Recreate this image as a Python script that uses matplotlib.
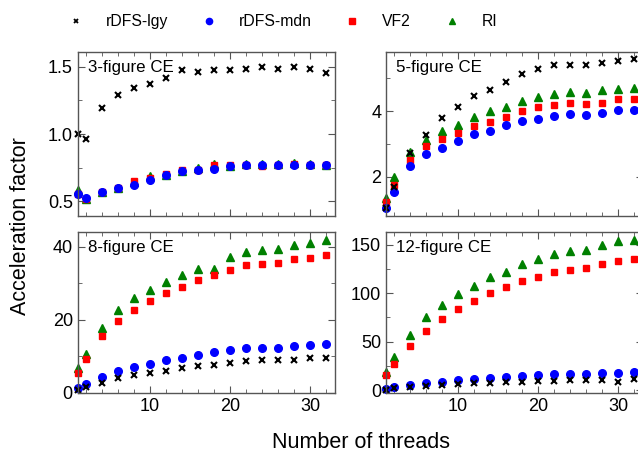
import numpy as np
import matplotlib.pyplot as plt
from matplotlib.ticker import MultipleLocator
from matplotlib.lines import Line2D

plt.rcParams['font.family'] = ['Liberation Sans', 'DejaVu Sans']

threads = [1, 2, 4, 6, 8, 10, 12, 14, 16, 18, 20, 22, 24, 26, 28, 30, 32]

# 3-figure CE
ce3_lgy = [1.00, 0.96, 1.19, 1.29, 1.345, 1.374, 1.414, 1.473, 1.465, 1.473, 1.473, 1.483, 1.497, 1.487, 1.50, 1.487, 1.453]
ce3_mdn = [0.555, 0.522, 0.57, 0.60, 0.624, 0.661, 0.698, 0.727, 0.735, 0.742, 0.762, 0.767, 0.767, 0.767, 0.768, 0.767, 0.767]
ce3_vf2 = [0.557, 0.518, 0.57, 0.60, 0.651, 0.675, 0.70, 0.73, 0.73, 0.767, 0.77, 0.77, 0.765, 0.77, 0.775, 0.772, 0.767]
ce3_ri = [0.58, 0.52, 0.572, 0.60, 0.64, 0.685, 0.695, 0.727, 0.75, 0.78, 0.763, 0.778, 0.776, 0.774, 0.785, 0.774, 0.767]

# 5-figure CE
ce5_lgy = [1.055, 1.69, 2.71, 3.26, 3.80, 4.12, 4.45, 4.64, 4.89, 5.13, 5.28, 5.39, 5.39, 5.39, 5.46, 5.52, 5.59]
ce5_mdn = [1.03, 1.54, 2.32, 2.68, 2.88, 3.10, 3.29, 3.39, 3.56, 3.70, 3.77, 3.86, 3.91, 3.88, 3.93, 4.02, 4.02]
ce5_vf2 = [1.23, 1.76, 2.51, 2.93, 3.15, 3.34, 3.55, 3.67, 3.81, 3.99, 4.11, 4.18, 4.25, 4.22, 4.25, 4.36, 4.36]
ce5_ri = [1.36, 1.98, 2.75, 3.12, 3.40, 3.56, 3.81, 3.99, 4.12, 4.30, 4.42, 4.51, 4.57, 4.55, 4.64, 4.68, 4.70]

# 8-figure CE
ce8_lgy = [0.8, 1.7, 2.8, 4.0, 4.8, 5.5, 6.1, 6.9, 7.4, 7.7, 8.3, 8.8, 9.0, 9.0, 9.0, 9.7, 9.7]
ce8_mdn = [1.3, 2.5, 4.3, 5.9, 7.1, 7.9, 8.9, 9.7, 10.5, 11.1, 11.8, 12.3, 12.4, 12.4, 12.9, 13.2, 13.5]
ce8_vf2 = [5.4, 9.4, 15.5, 19.8, 22.7, 25.1, 27.5, 29.1, 30.8, 32.2, 33.6, 35.0, 35.4, 35.6, 36.6, 37.0, 37.9]
ce8_ri = [6.8, 10.8, 17.8, 22.6, 26.0, 28.2, 30.3, 32.3, 34.0, 34.0, 37.1, 38.5, 39.2, 39.4, 40.5, 41.1, 41.8]

# 12-figure CE
ce12_lgy = [0.4, 1.8, 3.5, 4.5, 5.5, 6.3, 7.0, 7.3, 8.0, 8.0, 9.0, 9.7, 10.4, 10.4, 10.7, 8.3, 11.7]
ce12_mdn = [1.1, 3.5, 5.5, 7.6, 8.6, 10.0, 11.4, 12.5, 13.5, 14.2, 15.2, 16.3, 16.6, 16.6, 17.3, 17.9, 18.4]
ce12_vf2 = [15.2, 27.0, 45.6, 61.4, 73.2, 83.5, 92.4, 100.4, 106.2, 112.5, 117.2, 122.1, 124.5, 126.2, 130.4, 133.8, 135.8]
ce12_ri = [19.0, 33.9, 56.9, 75.2, 88.0, 99.6, 107.6, 116.6, 122.4, 130.7, 135.5, 141.0, 144.1, 145.0, 150.3, 154.1, 155.0]

panels = [
    ('3-figure CE', ce3_lgy, ce3_mdn, ce3_vf2, ce3_ri, (0.39, 1.61), 0.5, 0.25),
    ('5-figure CE', ce5_lgy, ce5_mdn, ce5_vf2, ce5_ri, (0.8, 5.8), 2, 1),
    ('8-figure CE', ce8_lgy, ce8_mdn, ce8_vf2, ce8_ri, (0, 44), 20, 10),
    ('12-figure CE', ce12_lgy, ce12_mdn, ce12_vf2, ce12_ri, (-3, 163), 50, 25),
]

rects = [
    [0.1218, 0.5242, 0.4033, 0.3612],
    [0.605, 0.5242, 0.4033, 0.3612],
    [0.1218, 0.1344, 0.4033, 0.354],
    [0.605, 0.1344, 0.4033, 0.354],
]

fig = plt.figure(figsize=(6.38, 4.54), dpi=100)
spine_col = '#555555'

for i, (name, lgy, mdn, vf2, ri, ylim, major, minor) in enumerate(panels):
    ax = fig.add_axes(rects[i])
    ax.plot(threads, ri, ls='none', marker='^', ms=5.5, color='#008000', clip_on=False)
    ax.plot(threads, vf2, ls='none', marker='s', ms=5, color='#ff0000', clip_on=False)
    ax.plot(threads, mdn, ls='none', marker='o', ms=5.5, color='#0000ff', clip_on=False)
    ax.plot(threads, lgy, ls='none', marker='x', ms=4, mew=1.5, color='black', clip_on=False)
    ax.set_xlim(1, 33.1)
    ax.set_ylim(*ylim)
    ax.xaxis.set_major_locator(MultipleLocator(10))
    ax.xaxis.set_minor_locator(MultipleLocator(2))
    ax.yaxis.set_major_locator(MultipleLocator(major))
    ax.yaxis.set_minor_locator(MultipleLocator(minor))
    ax.tick_params(which='both', direction='in', top=True, right=True, color=spine_col)
    ax.tick_params(which='major', length=5, labelsize=13)
    ax.tick_params(which='minor', length=3)
    for s in ax.spines.values():
        s.set_color(spine_col)
        s.set_linewidth(1.0)
    if i < 2:
        ax.tick_params(labelbottom=False)
    ax.text(0.04, 0.95, name, transform=ax.transAxes, fontsize=12.2, va='top', ha='left')

handles = [
    Line2D([], [], ls='none', marker='x', ms=3.5, mew=1.3, color='black'),
    Line2D([], [], ls='none', marker='o', ms=4.5, color='#0000ff'),
    Line2D([], [], ls='none', marker='s', ms=4.5, color='#ff0000'),
    Line2D([], [], ls='none', marker='^', ms=4.5, color='#008000'),
]
fig.legend(handles, ['rDFS-lgy', 'rDFS-mdn', 'VF2', 'RI'], loc='center', bbox_to_anchor=(0.443, 0.952),
           ncol=4, frameon=False, fontsize=11.3, handlelength=1.0, handletextpad=1.4, columnspacing=2.1)

fig.text(0.566, 0.026, 'Number of threads', ha='center', va='center', fontsize=15.5)
fig.text(0.032, 0.502, 'Acceleration factor', ha='center', va='center', rotation=90, fontsize=15.5)

fig.savefig('out.png', dpi=100)
